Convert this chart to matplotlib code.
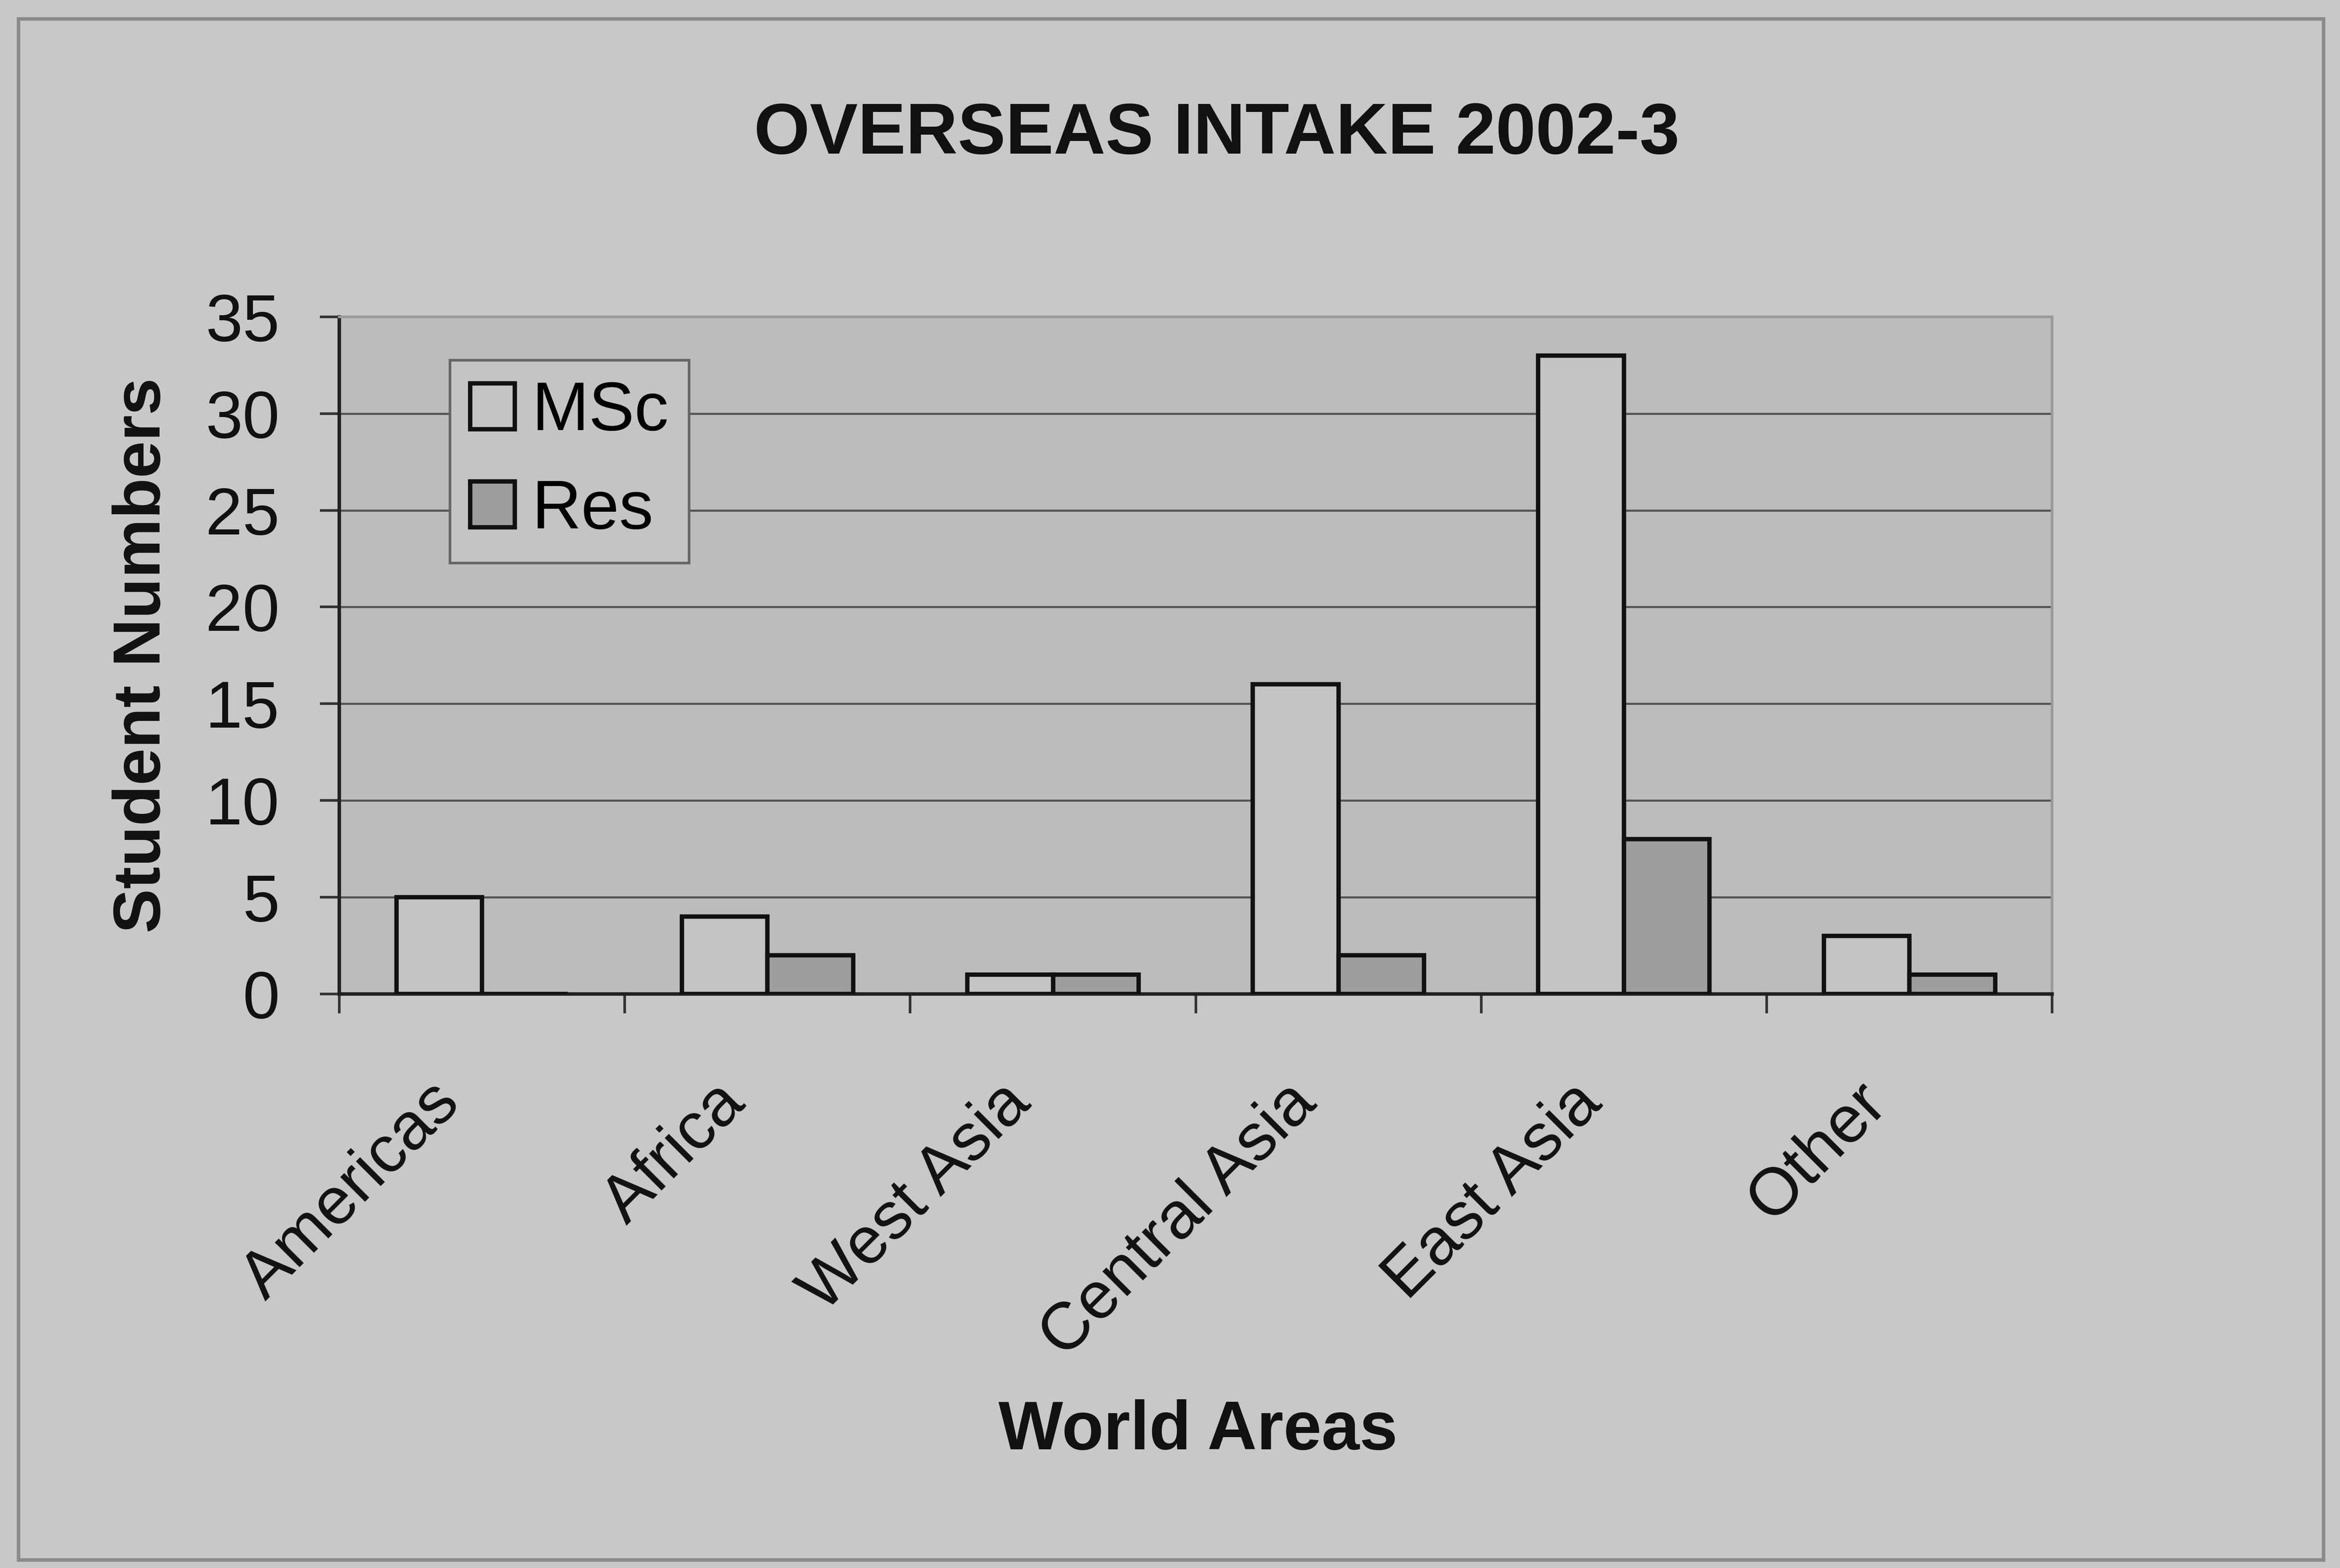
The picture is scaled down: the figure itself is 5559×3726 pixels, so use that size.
import matplotlib
matplotlib.use("Agg")
import matplotlib.pyplot as plt
import numpy as np
from matplotlib.patches import Rectangle

categories = ["Americas", "Africa", "West Asia", "Central Asia", "East Asia", "Other"]
msc = [5, 4, 1, 16, 33, 3]
res = [0, 2, 1, 2, 8, 1]
yticks = [0, 5, 10, 15, 20, 25, 30, 35]

plt.rcParams['font.family'] = ['Liberation Sans', 'DejaVu Sans']

fig = plt.figure(figsize=(5559/300, 3726/300), dpi=300, facecolor='#c8c8c8')
ax = fig.add_axes([0.145, 0.366, 0.732, 0.432])
ax.set_facecolor('#bcbcbc')

x = np.arange(len(categories))
w = 0.3
ax.bar(x - w/2, msc, w, color='#c4c4c4', edgecolor='#111111', linewidth=2.5, label='MSc', zorder=3)
ax.bar(x + w/2, res, w, color='#9e9e9e', edgecolor='#111111', linewidth=2.5, label='Res', zorder=3)

ax.set_xlim(-0.5, len(categories) - 0.5)
ax.set_ylim(0, 35)
ax.set_yticks(yticks)
ax.set_yticklabels([str(t) for t in yticks], fontsize=38, color='#111111')
ax.yaxis.grid(True, color='#555555', linewidth=1.2, zorder=0)
ax.set_axisbelow(True)

# separator ticks between categories
ax.set_xticks(np.arange(len(categories) + 1) - 0.5)
ax.set_xticklabels([])
ax.tick_params(axis='x', which='major', length=11, width=1.5, color='#333333', direction='out')
ax.tick_params(axis='y', length=11, width=1.5, color='#333333', direction='out', pad=23)

# category labels, rotated, anchored at each category centre
for i, cat in enumerate(categories):
    ax.annotate(cat, xy=(x[i], 0), xycoords=('data', 'axes fraction'),
                xytext=(-31, -44), textcoords='offset points',
                rotation=45, ha='right', va='top', rotation_mode='anchor',
                fontsize=38, color='#111111', annotation_clip=False)

for s in ['top', 'right']:
    ax.spines[s].set_color('#9a9a9a')
    ax.spines[s].set_linewidth(1.5)
for s in ['left', 'bottom']:
    ax.spines[s].set_color('#222222')
    ax.spines[s].set_linewidth(2)

ax.set_ylabel('Student Numbers', fontsize=38, fontweight='bold', color='#111111', labelpad=18)
fig.text(0.512, 0.087, 'World Areas', fontsize=39, fontweight='bold', color='#111111',
         ha='center', va='center')
fig.text(0.52, 0.914, 'OVERSEAS INTAKE 2002-3', fontsize=41, fontweight='bold', color='#111111',
         ha='center', va='center')

leg = ax.legend(loc='upper left', bbox_to_anchor=(0.0645, 0.936), fontsize=39, frameon=True,
                fancybox=False, edgecolor='#666666', facecolor='#c4c4c4', framealpha=1,
                handlelength=0.65, handleheight=0.65, handletextpad=0.25, borderpad=0.3,
                labelspacing=0.5, borderaxespad=0)
leg.get_frame().set_linewidth(1.5)
leg.set_zorder(5)

fig.patches.append(Rectangle((0.008, 0.005), 0.985, 0.983, transform=fig.transFigure,
                             fill=False, edgecolor='#8a8a8a', linewidth=2))

fig.savefig('out.png', dpi=300, facecolor=fig.get_facecolor())
